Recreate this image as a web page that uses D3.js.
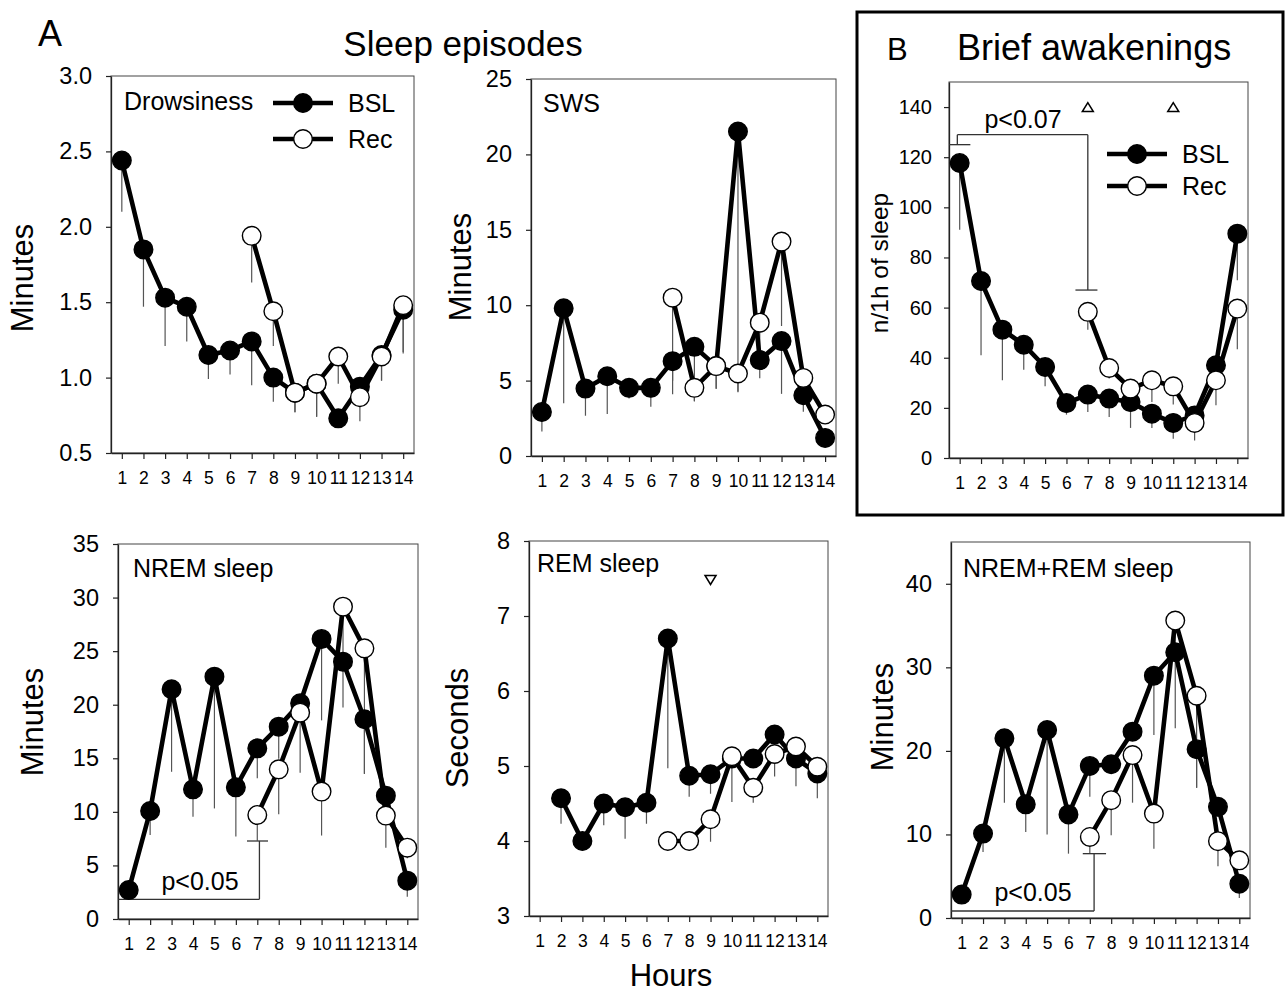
<!DOCTYPE html>
<html>
<head>
<meta charset="utf-8">
<script src="https://cdn.jsdelivr.net/npm/d3@7"></script>
<style>
html,body{margin:0;padding:0;background:#fff;}
svg{display:block;}
text{font-family:"Liberation Sans",Arial,Helvetica,sans-serif;fill:#000;}
</style>
</head>
<body>
<svg id="chart" width="1288" height="998"></svg>
<script>
// ---------- data ----------
const hours = [1,2,3,4,5,6,7,8,9,10,11,12,13,14];
const xTickLabels = ["1","2","3","4","5","6","7","8","9","10","11","12","13","14"];
const seriesNames = ["BSL","Rec"];

// Drowsiness (minutes)
const drowsBSL    = [2.44,1.85,1.53,1.47,1.15,1.18,1.24,1.00,0.90,0.96,0.73,0.94,1.15,1.45];
const drowsBSLsem = [0.34,0.38,0.32,0.23,0.16,0.16,0.29,0.16,0.13,0.22,null,null,0.17,0.29];
const drowsRec    = [null,null,null,null,null,null,1.94,1.44,0.90,0.96,1.14,0.87,1.14,1.48];
const drowsRecsem = [null,null,null,null,null,null,0.31,0.23,0.13,0.22,0.18,0.16,0.16,0.31];
const drowsYTicks = [0.5,1.0,1.5,2.0,2.5,3.0];

// SWS (minutes)
const swsBSL    = [2.92,9.79,4.47,5.29,4.52,4.52,6.29,7.24,5.96,21.52,6.36,7.62,4.03,1.20];
const swsBSLsem = [1.3,6.3,1.8,2.5,0.7,1.26,1.3,3.6,1.5,17.3,1.2,3.5,1.1,null];
const swsRec    = [null,null,null,null,null,null,10.5,4.52,5.96,5.47,8.84,14.22,5.18,2.75];
const swsRecsem = [null,null,null,null,null,null,6.4,0.9,1.5,1.2,2.4,5.6,1.0,0.6];
const swsYTicks = [0,5,10,15,20,25];

// Brief awakenings (n/1h of sleep)
const baBSL    = [117.7,70.6,51.2,45.2,36.3,21.9,25.3,23.7,22.3,17.7,14.0,17.0,37.0,89.5];
const baBSLsem = [26.6,29.6,20.2,10.0,7.7,4.6,6.9,7.3,10.3,5.7,6.3,null,null,18.6];
const baRec    = [null,null,null,null,null,null,58.3,35.9,27.7,31.0,28.6,14.0,31.0,59.6];
const baRecsem = [null,null,null,null,null,null,7.1,4.2,null,8.7,7.3,7.0,10.0,16.2];
const baYTicks = [0,20,40,60,80,100,120,140];
const baMarkHours = [7,11];
const baMarkValue = 140;

// NREM sleep (minutes)
const nremBSL    = [2.7,10.08,21.44,12.1,22.62,12.29,15.93,17.95,20.13,26.14,24.02,18.64,11.51,3.58];
const nremBSLsem = [null,2.24,7.7,2.55,12.3,4.6,2.8,3.0,null,7.6,null,5.1,null,1.5];
const nremRec    = [null,null,null,null,null,null,9.71,13.97,19.26,11.89,29.15,25.26,9.65,6.66];
const nremRecsem = [null,null,null,null,null,null,2.4,4.2,5.6,4.1,9.4,11.7,3.0,1.0];
const nremYTicks = [0,5,10,15,20,25,30,35];

// REM sleep (seconds)
const remBSL    = [null,4.57,4.00,4.50,4.45,4.51,6.70,4.87,4.89,5.10,5.10,5.42,5.10,4.90];
const remBSLsem = [null,0.34,null,0.29,0.42,0.28,1.73,0.28,0.26,null,null,null,0.37,0.33];
const remRec    = [null,null,null,null,null,null,4.00,4.00,4.29,5.13,4.71,5.16,5.26,4.99];
const remRecsem = [null,null,null,null,null,null,null,null,0.30,0.61,0.20,0.30,null,null];
const remYTicks = [3,4,5,6,7,8];
const remMarkHours = [9];
const remMarkValue = 7.48;

// NREM+REM sleep (minutes)
const totBSL    = [2.8,10.1,21.5,13.6,22.5,12.4,18.2,18.4,22.3,29.0,31.8,20.2,13.3,4.1];
const totBSLsem = [null,2.2,7.7,3.3,12.5,4.7,3.7,null,null,7.1,null,4.6,null,1.7];
const totRec    = [null,null,null,null,null,null,9.7,14.1,19.5,12.5,35.6,26.6,9.2,6.9];
const totRecsem = [null,null,null,null,null,null,2.0,4.2,5.7,4.2,12.9,11.0,3.0,null];
const totYTicks = [0,10,20,30,40];

// ---------- drawing ----------
const svg = d3.select("#chart");
const FONT = '"Liberation Sans",Arial,Helvetica,sans-serif';

function panel(cfg){
  const g = svg.append("g");
  const x = d3.scaleLinear().domain([0.5,14.5]).range([cfg.x0,cfg.x1]);
  const y = d3.scaleLinear().domain(cfg.yDomain).range([cfg.y1,cfg.y0]);

  // frame
  g.append("rect").attr("x",cfg.x0).attr("y",cfg.y0)
    .attr("width",cfg.x1-cfg.x0).attr("height",cfg.y1-cfg.y0)
    .attr("fill","none").attr("stroke","#444").attr("stroke-width",1);

  // axes
  const yAxis = d3.axisLeft(y).tickValues(cfg.yTicks).tickSize(5).tickSizeOuter(0)
    .tickPadding(cfg.yPad).tickFormat(cfg.yFmt);
  const ya = g.append("g").attr("transform",`translate(${cfg.x0},0)`).call(yAxis);
  ya.select(".domain").attr("stroke","#222").attr("stroke-width",1.3);
  ya.selectAll(".tick line").attr("stroke","#222").attr("stroke-width",1.2);
  ya.selectAll(".tick text").attr("font-size",cfg.yFont).attr("font-family",FONT).attr("fill","#000");

  const xAxis = d3.axisBottom(x).tickValues(hours).tickSize(6).tickSizeOuter(0)
    .tickPadding(13).tickFormat((d,i)=>xTickLabels[i]);
  const xa = g.append("g").attr("transform",`translate(0,${cfg.y1})`).call(xAxis);
  xa.select(".domain").attr("stroke","#222").attr("stroke-width",1.3);
  xa.selectAll(".tick line").attr("stroke","#222").attr("stroke-width",1.2);
  xa.selectAll(".tick text").attr("font-size",17.5).attr("font-family",FONT).attr("fill","#000");

  // y label
  g.append("text").attr("transform",`translate(${cfg.ylx},${cfg.yly}) rotate(-90)`)
    .attr("text-anchor","middle").attr("font-size",cfg.ylFont).text(cfg.ylabel);

  // panel title
  g.append("text").attr("x",cfg.tx).attr("y",cfg.ty).attr("font-size",25).text(cfg.title);

  const series = [
    {vals:cfg.bsl, sem:cfg.bslSem, fill:"#000"},
    {vals:cfg.rec, sem:cfg.recSem, fill:"#fff"}
  ];

  // error bars (downward)
  series.forEach(s=>{
    hours.forEach((h,i)=>{
      if(s.vals[i]==null || s.sem[i]==null) return;
      g.append("line").attr("x1",x(h)).attr("x2",x(h))
        .attr("y1",y(s.vals[i])).attr("y2",y(s.vals[i]-s.sem[i]))
        .attr("stroke","#555").attr("stroke-width",1.2);
    });
  });

  // brackets
  if(cfg.bracket){
    cfg.bracket.forEach(seg=>{
      g.append("line").attr("x1",x(seg[0])).attr("y1",y(seg[1]))
        .attr("x2",x(seg[2])).attr("y2",y(seg[3]))
        .attr("stroke","#333").attr("stroke-width",1.3);
    });
    g.append("text").attr("x",cfg.pText[0]).attr("y",cfg.pText[1])
      .attr("text-anchor","middle").attr("font-size",25).text(cfg.pLabel);
  }

  // lines + markers
  const line = d3.line().defined(d=>d[1]!=null).x(d=>x(d[0])).y(d=>y(d[1]));
  series.forEach(s=>{
    const pts = hours.map((h,i)=>[h,s.vals[i]]);
    g.append("path").datum(pts).attr("d",line).attr("fill","none")
      .attr("stroke","#000").attr("stroke-width",4.6).attr("stroke-linejoin","round");
    g.selectAll(null).data(pts.filter(p=>p[1]!=null)).enter().append("circle")
      .attr("cx",p=>x(p[0])).attr("cy",p=>y(p[1])).attr("r",9.3)
      .attr("fill",s.fill).attr("stroke","#000").attr("stroke-width",1.4);
  });

  // significance triangles
  if(cfg.marks){
    cfg.marks.hours.forEach(h=>{
      const cx = x(h), cy = y(cfg.marks.value);
      const pts = cfg.marks.up
        ? [[cx-5.5,cy+4.5],[cx+5.5,cy+4.5],[cx,cy-4.5]]
        : [[cx-5.5,cy-4.5],[cx+5.5,cy-4.5],[cx,cy+4.5]];
      g.append("polygon").attr("points",pts.map(p=>p.join(",")).join(" "))
        .attr("fill","#fff").attr("stroke","#000").attr("stroke-width",1.5);
    });
  }

  // legend
  if(cfg.legend){
    const L = cfg.legend;
    [0,1].forEach(k=>{
      const ly = L.y + k*L.dy;
      g.append("line").attr("x1",L.x).attr("x2",L.x+60).attr("y1",ly).attr("y2",ly)
        .attr("stroke","#000").attr("stroke-width",4.6);
      g.append("circle").attr("cx",L.x+30).attr("cy",ly).attr("r",9.3)
        .attr("fill",k===0?"#000":"#fff").attr("stroke","#000").attr("stroke-width",1.4);
      g.append("text").attr("x",L.x+75).attr("y",ly+9).attr("font-size",25).text(seriesNames[k]);
    });
  }
}

const f1 = d3.format(".1f"), f0 = d3.format("d");

panel({x0:111,x1:414,y0:76,y1:453,yDomain:[0.5,3.0],yTicks:drowsYTicks,yFmt:f1,yPad:14,yFont:23.5,
  ylabel:"Minutes",ylx:33,yly:278,ylFont:31,title:"Drowsiness",tx:124,ty:110,
  bsl:drowsBSL,bslSem:drowsBSLsem,rec:drowsRec,recSem:drowsRecsem,
  legend:{x:273,y:103,dy:36}});

panel({x0:531,x1:836,y0:79,y1:456,yDomain:[0,25],yTicks:swsYTicks,yFmt:f0,yPad:14,yFont:23.5,
  ylabel:"Minutes",ylx:471,yly:267,ylFont:31,title:"SWS",tx:543,ty:112,
  bsl:swsBSL,bslSem:swsBSLsem,rec:swsRec,recSem:swsRecsem});

panel({x0:949,x1:1248,y0:82,y1:458,yDomain:[0,150],yTicks:baYTicks,yFmt:f0,yPad:12,yFont:20,
  ylabel:"n/1h of sleep",ylx:888,yly:263,ylFont:24.5,title:"",tx:0,ty:0,
  bsl:baBSL,bslSem:baBSLsem,rec:baRec,recSem:baRecsem,
  legend:{x:1107,y:154,dy:32},
  marks:{hours:baMarkHours,value:baMarkValue,up:true},
  bracket:[[0.5,125,1.5,125],[0.89,125,0.89,129],[0.89,129,7,129],[7,129,7,67],[6.42,67,7.45,67]],
  pText:[1023,128],pLabel:"p<0.07"});

panel({x0:118,x1:418,y0:544,y1:919,yDomain:[0,35],yTicks:nremYTicks,yFmt:f0,yPad:14,yFont:23.5,
  ylabel:"Minutes",ylx:43,yly:722,ylFont:31,title:"NREM sleep",tx:133,ty:577,
  bsl:nremBSL,bslSem:nremBSLsem,rec:nremRec,recSem:nremRecsem,
  bracket:[[0.5,1.84,7.1,1.84],[7.1,1.84,7.1,7.28],[6.52,7.28,7.5,7.28]],
  pText:[200,890],pLabel:"p<0.05"});

panel({x0:529,x1:828,y0:541,y1:916,yDomain:[3,8],yTicks:remYTicks,yFmt:f0,yPad:14,yFont:23.5,
  ylabel:"Seconds",ylx:468,yly:728,ylFont:31,title:"REM sleep",tx:537,ty:572,
  bsl:remBSL,bslSem:remBSLsem,rec:remRec,recSem:remRecsem,
  marks:{hours:remMarkHours,value:remMarkValue,up:false}});

panel({x0:951,x1:1250,y0:542,y1:918,yDomain:[0,45],yTicks:totYTicks,yFmt:f0,yPad:14,yFont:23.5,
  ylabel:"Minutes",ylx:893,yly:717,ylFont:31,title:"NREM+REM sleep",tx:963,ty:577,
  bsl:totBSL,bslSem:totBSLsem,rec:totRec,recSem:totRecsem,
  bracket:[[0.5,0.84,7.2,0.84],[7.2,0.84,7.2,7.7],[6.67,7.7,7.76,7.7]],
  pText:[1033,901],pLabel:"p<0.05"});

// headings
svg.append("text").attr("x",38).attr("y",46).attr("font-size",36).text("A");
svg.append("text").attr("x",463).attr("y",56).attr("text-anchor","middle").attr("font-size",35).text("Sleep episodes");
svg.append("rect").attr("x",857).attr("y",12).attr("width",426).attr("height",503)
  .attr("fill","none").attr("stroke","#000").attr("stroke-width",3);
svg.append("text").attr("x",887).attr("y",60).attr("font-size",31).text("B");
svg.append("text").attr("x",957).attr("y",60).attr("font-size",36).text("Brief awakenings");
svg.append("text").attr("x",671).attr("y",986).attr("text-anchor","middle").attr("font-size",31).text("Hours");
</script>
</body>
</html>
